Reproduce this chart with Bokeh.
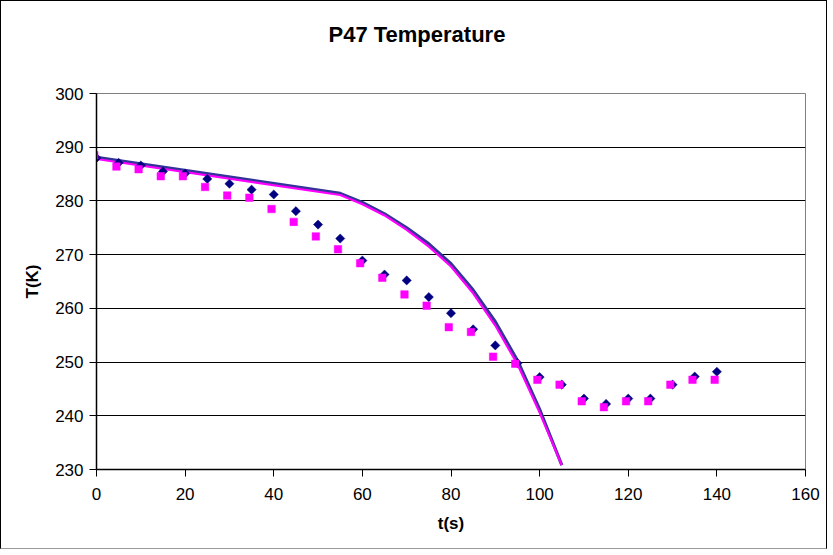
from bokeh.plotting import figure
from bokeh.models import Range1d, FixedTicker, Title
from bokeh.embed import file_html
from bokeh.resources import INLINE
import math

# ---- data ----
t_blue_pts = [0, 5, 10, 15, 20, 25, 30, 35, 40, 45, 50, 55, 60, 65, 70,
              75, 80, 85, 90, 95, 100, 105, 110, 115, 120, 125, 130, 135, 140]
T_blue_pts = [288.0, 287.1, 286.6, 285.5, 285.1, 284.1, 283.2, 282.1, 281.2, 278.1,
              275.6, 273.0, 268.9, 266.3, 265.2, 262.1, 259.1, 256.1, 253.1, 249.8,
              247.2, 245.8, 243.2, 242.2, 243.2, 243.2, 245.8, 247.3, 248.2]

t_pink_pts = [-0.5, 4.5, 9.5, 14.5, 19.5, 24.5, 29.5, 34.5, 39.5, 44.5, 49.5, 54.5,
              59.5, 64.5, 69.5, 74.5, 79.5, 84.5, 89.5, 94.5, 99.5, 104.5, 109.5,
              114.5, 119.5, 124.5, 129.5, 134.5, 139.5]
T_pink_pts = [288.5, 286.4, 285.9, 284.6, 284.6, 282.6, 281.0, 280.6, 278.5, 276.1,
              273.4, 271.0, 268.4, 265.7, 262.6, 260.5, 256.5, 255.6, 251.0, 249.7,
              246.7, 245.8, 242.7, 241.6, 242.7, 242.7, 245.8, 246.7, 246.7]

t_line = [0, 55, 60, 65, 70, 75, 80, 85, 90, 95, 100, 105]
T_line_blue = [288.1, 281.4, 279.7, 277.6, 275.0, 272.0, 268.3, 263.4, 257.5, 250.3, 241.2, 230.8]
T_line_pink = [287.8, 281.1, 279.4, 277.3, 274.6, 271.5, 267.8, 262.8, 256.8, 249.6, 240.6, 230.8]

x_ticks = [0, 20, 40, 60, 80, 100, 120, 140, 160]
y_ticks = [230, 240, 250, 260, 270, 280, 290, 300]

title_text = "P47 Temperature"

FONT = "Liberation Sans"

p = figure(width=827, height=549, output_backend="svg", toolbar_location=None,
           x_range=Range1d(0, 160), y_range=Range1d(230, 300),
           min_border_left=95, min_border_right=23, min_border_top=92, min_border_bottom=81)
p.styles = {"border": "1px solid #000000", "border-bottom-color": "#9a9a9a"}

# spacer between the title and the plot frame (nearest the frame), then the title
p.add_layout(Title(text=" ", text_font_size="1px", standoff=44), "above")
p.add_layout(Title(text=title_text, align="left", offset=232, standoff=0,
                   text_font=FONT, text_font_size="22px", text_font_style="bold",
                   text_color="black"), "above")

p.background_fill_color = "white"
p.border_fill_color = "white"
p.outline_line_color = "#808080"
p.outline_line_width = 1

p.xgrid.grid_line_color = None
p.ygrid.grid_line_color = "black"
p.ygrid.grid_line_width = 1

for ax in (p.xaxis[0], p.yaxis[0]):
    ax.axis_line_color = "black"
    ax.axis_line_width = 1.5
    ax.major_tick_line_color = "black"
    ax.major_tick_out = 7
    ax.major_tick_in = 0
    ax.minor_tick_line_color = None
    ax.major_label_text_font = FONT
    ax.major_label_text_font_size = "17px"
    ax.major_label_text_color = "black"
    ax.axis_label_text_font = FONT
    ax.axis_label_text_font_size = "17px"
    ax.axis_label_text_font_style = "bold"
    ax.axis_label_text_color = "black"

p.xaxis[0].ticker = FixedTicker(ticks=x_ticks)
p.yaxis[0].ticker = FixedTicker(ticks=y_ticks)
p.xaxis[0].axis_label = "t(s)"
p.yaxis[0].axis_label = "T(K)"
p.xaxis[0].major_label_standoff = 11
p.xaxis[0].axis_label_standoff = 11
p.yaxis[0].major_label_standoff = 6
p.yaxis[0].axis_label_standoff = 10

p.line(t_line, T_line_blue, line_color="#333399", line_width=3.2)
p.line(t_line, T_line_pink, line_color="#FF00FF", line_width=2.2)

p.scatter(t_blue_pts, T_blue_pts, marker="square", size=6.5, angle=math.pi / 4,
          fill_color="#000080", line_color="#000080", line_width=0.5)
p.scatter(t_pink_pts, T_pink_pts, marker="square", size=7.5,
          fill_color="#FF00FF", line_color="#FF00FF", line_width=0.5)

open("out.html", "w").write(file_html(p, INLINE))
